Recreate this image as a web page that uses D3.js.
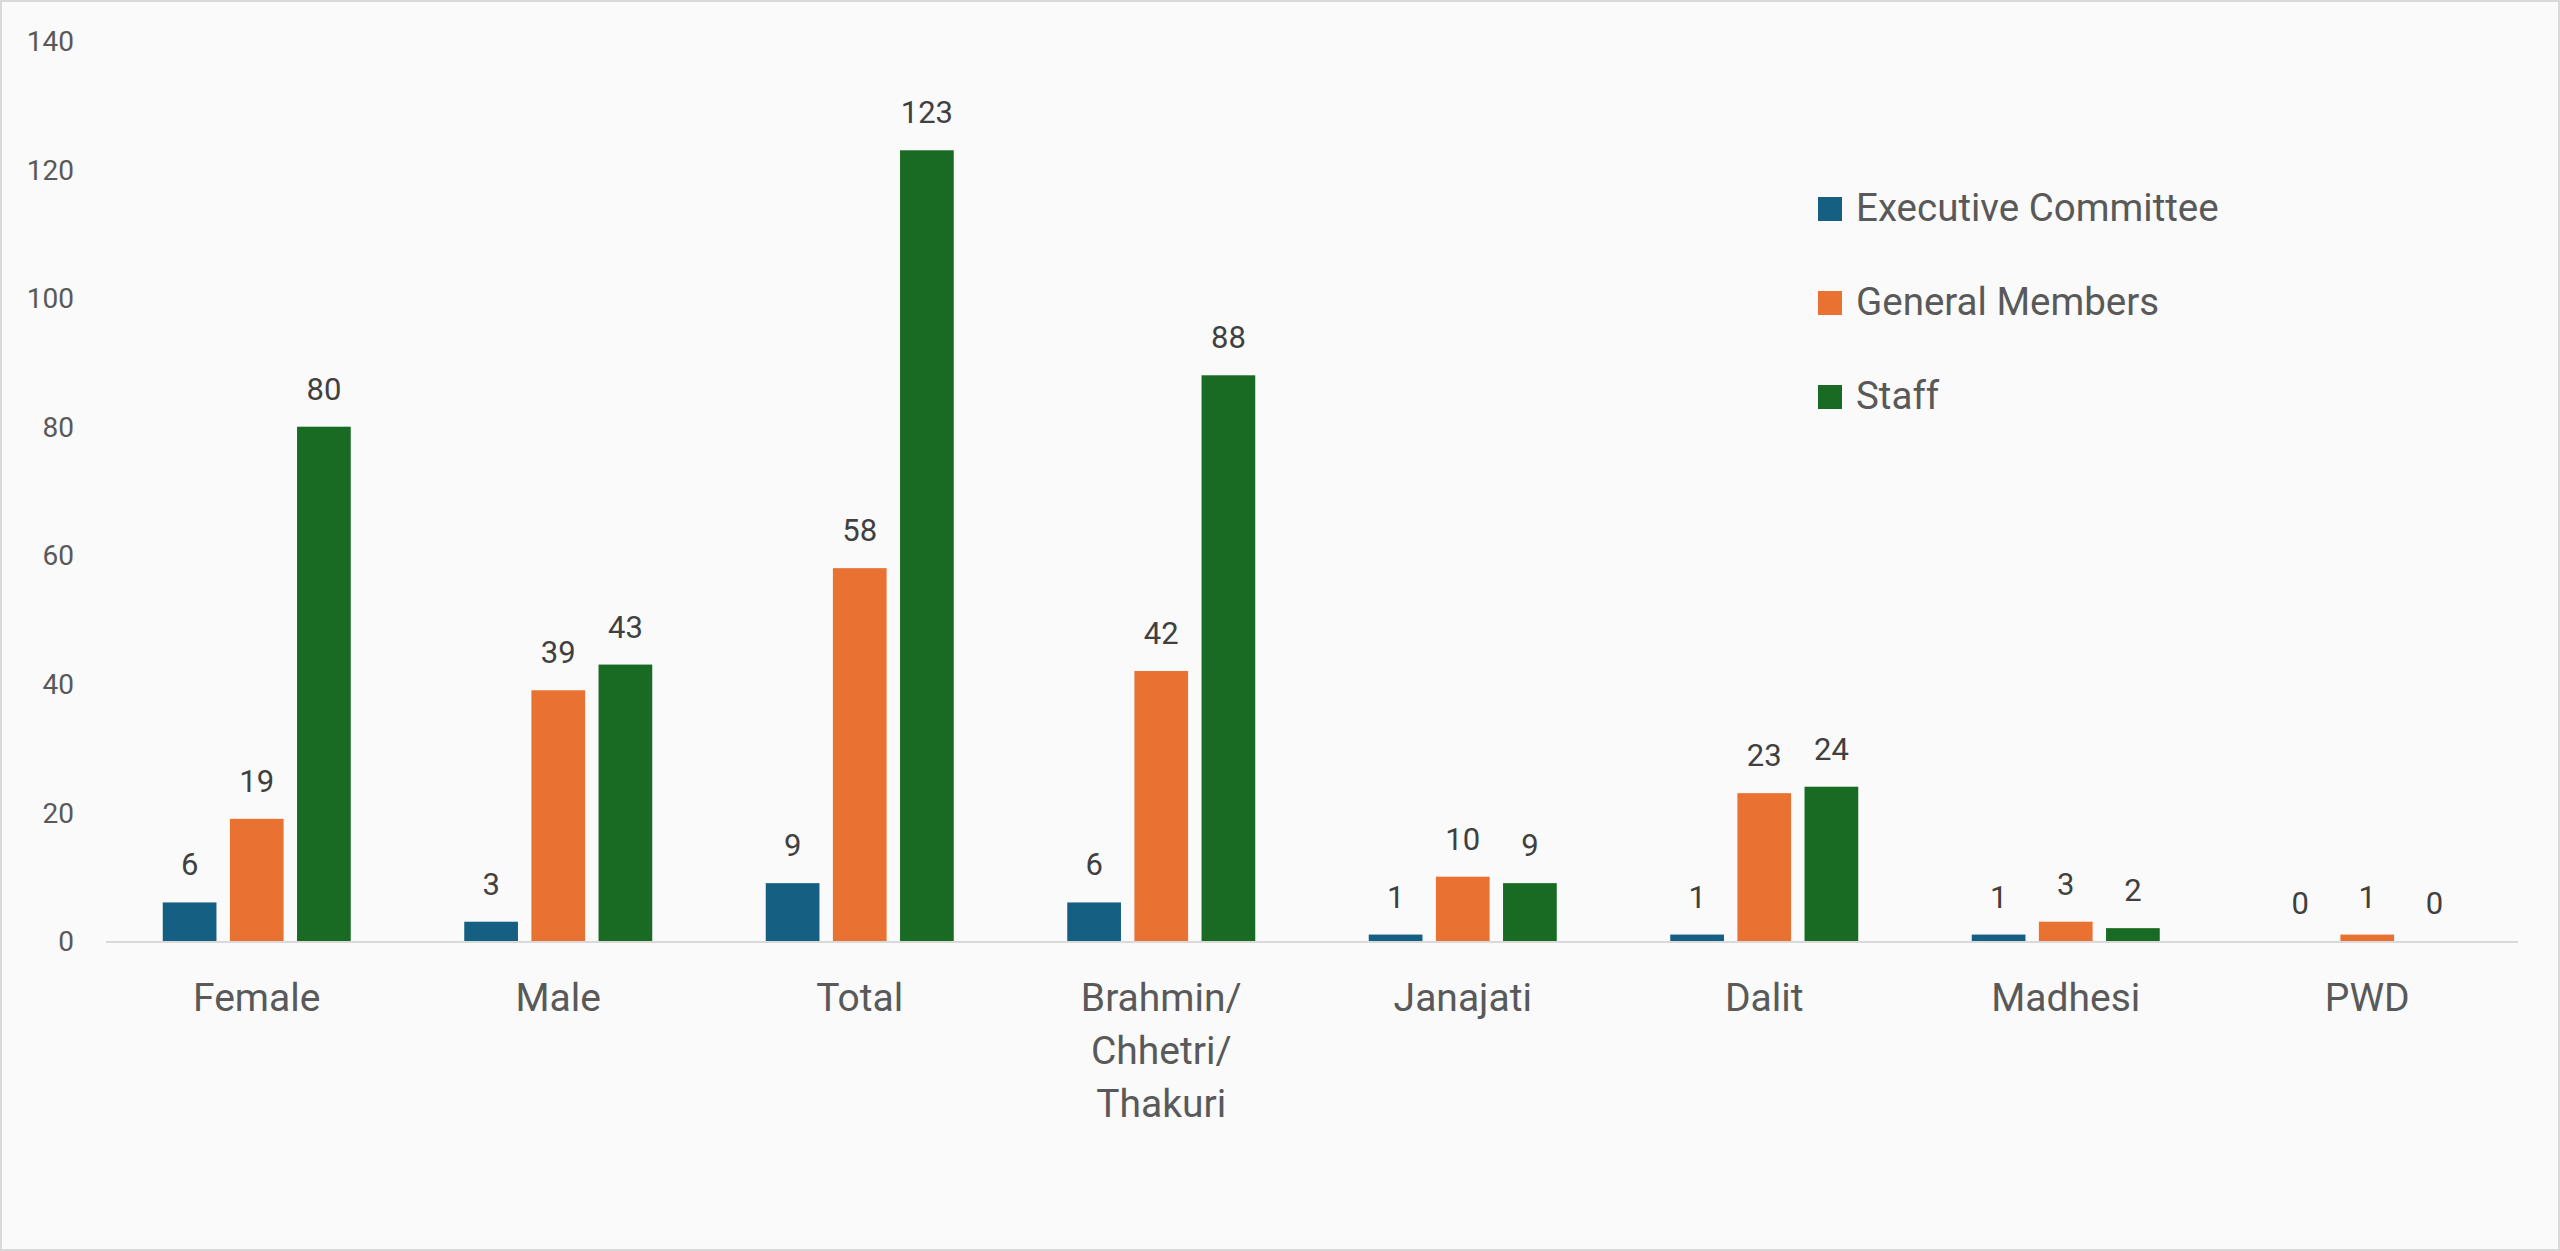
<!DOCTYPE html>
<html>
<head>
<meta charset="utf-8">
<script src="https://cdn.jsdelivr.net/npm/d3@7"></script>
<style>
    html, body { margin: 0; padding: 0; background: #fafafa; }
    svg { display: block; }
    text { font-family: Roboto, "Noto Sans", sans-serif; }
</style>
</head>
<body>
<svg id="chart"></svg>
<script>
// ===== DATA =====
const categories = [
    'Female', 'Male', 'Total', 'Brahmin/ Chhetri/ Thakuri',
    'Janajati', 'Dalit', 'Madhesi', 'PWD'
];
const seriesNames = ['Executive Committee', 'General Members', 'Staff'];
const executive = [6, 3, 9, 6, 1, 1, 1, 0];
const general   = [19, 39, 58, 42, 10, 23, 3, 1];
const staff     = [80, 43, 123, 88, 9, 24, 2, 0];
const yTicks    = [0, 20, 40, 60, 80, 100, 120, 140];

const colors = ['#156082', '#E97132', '#196B24'];
const seriesValues = [executive, general, staff];

// ===== LAYOUT =====
const W = 2560, H = 1251;
const plot = { left: 106, right: 2518, top: 41, bottom: 941 };

const svg = d3.select('#chart').attr('width', W).attr('height', H);

// Outer frame
svg.append('rect')
    .attr('x', 1).attr('y', 1)
    .attr('width', W - 2).attr('height', H - 2)
    .attr('fill', '#fafafa')
    .attr('stroke', '#d9d9d9')
    .attr('stroke-width', 2);

const x0 = d3.scaleBand()
    .domain(categories)
    .range([plot.left, plot.right])
    .padding(0);

const groupW = 188;
const x1 = d3.scaleBand()
    .domain(seriesNames)
    .range([0, groupW])
    .paddingInner(0.2);

const y = d3.scaleLinear()
    .domain([0, 140])
    .range([plot.bottom, plot.top]);

// Y tick labels (no axis line, no gridlines)
svg.append('g')
    .selectAll('text')
    .data(yTicks)
    .enter().append('text')
    .attr('x', 74)
    .attr('y', d => y(d))
    .attr('dy', '0.36em')
    .attr('text-anchor', 'end')
    .attr('font-size', 28)
    .attr('fill', '#595959')
    .text(d => d);

// Bars
const rows = categories.map((c, i) => ({
    cat: c,
    vals: seriesNames.map((s, j) => ({ s, j, v: seriesValues[j][i] }))
}));

const groups = svg.append('g')
    .selectAll('g')
    .data(rows)
    .enter().append('g')
    .attr('transform', d => `translate(${x0(d.cat) + (x0.bandwidth() - groupW) / 2},0)`);

groups.selectAll('rect')
    .data(d => d.vals)
    .enter().append('rect')
    .attr('x', d => x1(d.s))
    .attr('y', d => y(d.v))
    .attr('width', x1.bandwidth())
    .attr('height', d => y(0) - y(d.v))
    .attr('fill', d => colors[d.j]);

// Data labels
groups.selectAll('.val')
    .data(d => d.vals)
    .enter().append('text')
    .attr('class', 'val')
    .attr('x', d => x1(d.s) + x1.bandwidth() / 2)
    .attr('y', d => y(d.v) - 27)
    .attr('text-anchor', 'middle')
    .attr('font-size', 31)
    .attr('fill', '#404040')
    .text(d => d.v);

// X axis line
svg.append('line')
    .attr('x1', plot.left).attr('x2', plot.right)
    .attr('y1', y(0) + 1).attr('y2', y(0) + 1)
    .attr('stroke', '#d9d9d9')
    .attr('stroke-width', 2);

// Category labels (wrapped on spaces)
svg.append('g')
    .selectAll('text')
    .data(categories)
    .enter().append('text')
    .attr('text-anchor', 'middle')
    .attr('font-size', 39)
    .attr('fill', '#595959')
    .each(function (d) {
        const t = d3.select(this);
        d.split(' ').forEach((line, k) => {
            t.append('tspan')
                .attr('x', x0(d) + x0.bandwidth() / 2)
                .attr('y', 1011 + k * 53)
                .text(line);
        });
    });

// Legend
const legend = svg.append('g')
    .selectAll('g')
    .data(seriesNames)
    .enter().append('g')
    .attr('transform', (d, i) => `translate(1818,${197 + i * 94})`);

legend.append('rect')
    .attr('width', 24).attr('height', 24)
    .attr('fill', (d, i) => colors[i]);

legend.append('text')
    .attr('x', 38)
    .attr('y', 24)
    .attr('font-size', 38.5)
    .attr('fill', '#595959')
    .text(d => d);
</script>
</body>
</html>
